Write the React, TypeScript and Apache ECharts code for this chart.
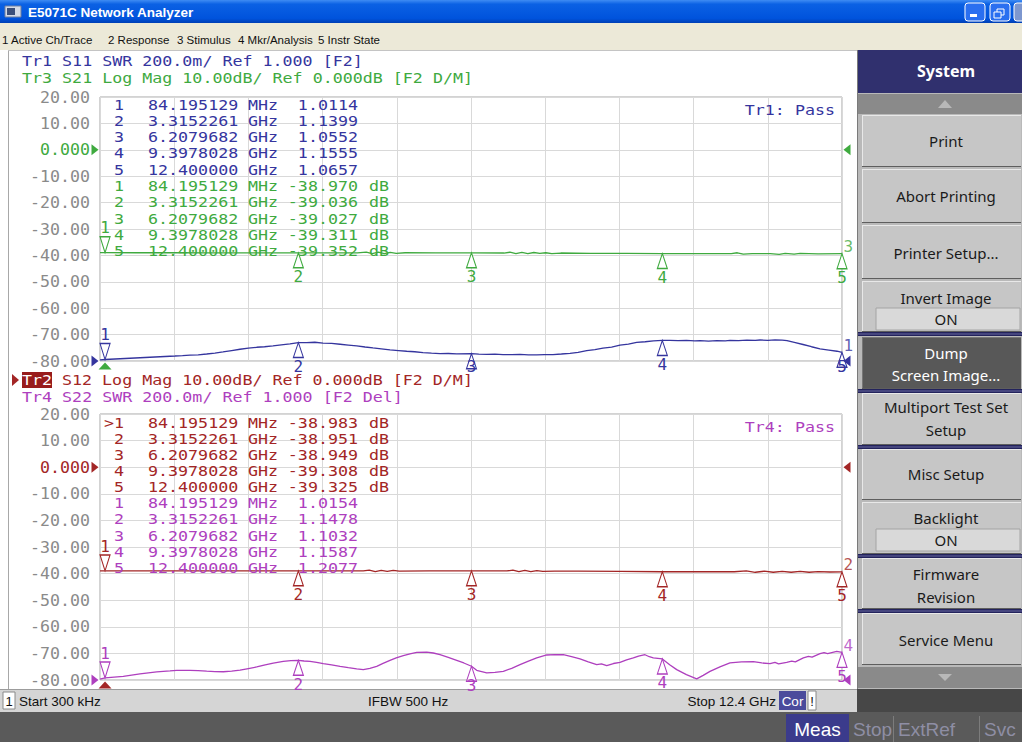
import React, { useEffect, useRef } from 'react';
import * as echarts from 'echarts';

// ---------------- data ----------------
const markerFreqGHz = [0.084195129, 3.3152261, 6.2079682, 9.3978028, 12.4];
const markerFreqText = ['84.195129', '3.3152261', '6.2079682', '9.3978028', '12.400000'];
const markerUnitText = ['MHz', 'GHz', 'GHz', 'GHz', 'GHz'];
const tr1MarkerSwr = [1.0114, 1.1399, 1.0552, 1.1555, 1.0657];
const tr3MarkerDb = [-38.97, -39.036, -39.027, -39.311, -39.352];
const tr2MarkerDb = [-38.983, -38.951, -38.949, -39.308, -39.325];
const tr4MarkerSwr = [1.0154, 1.1478, 1.1032, 1.1587, 1.2077];

// Tr1 S11 SWR (top plot)
const tr1Trace: [number, number][] = [
  [0.0003, 1.009], [0.0842, 1.0114], [1.253, 1.038], [1.38, 1.041], [1.504, 1.044], [1.64, 1.047],
  [1.783, 1.053], [1.92, 1.06], [2.056, 1.069], [2.2, 1.079], [2.34, 1.089], [2.48, 1.097],
  [2.619, 1.104], [2.75, 1.108], [2.891, 1.114], [3.03, 1.122], [3.175, 1.129], [3.3152261, 1.1399],
  [3.454, 1.139], [3.59, 1.142], [3.727, 1.136], [3.87, 1.133], [4.012, 1.127], [4.15, 1.121],
  [4.29, 1.114], [4.43, 1.106], [4.562, 1.099], [4.7, 1.092], [4.847, 1.084], [4.99, 1.079],
  [5.126, 1.074], [5.26, 1.07], [5.398, 1.064], [5.54, 1.059], [5.682, 1.056], [5.82, 1.057],
  [5.961, 1.054], [6.2079682, 1.0552], [6.33, 1.052], [6.463, 1.05], [6.6, 1.052], [6.735, 1.049],
  [6.88, 1.048], [7.019, 1.05], [7.16, 1.047], [7.298, 1.046], [7.43, 1.049], [7.57, 1.049],
  [7.71, 1.053], [7.855, 1.058], [7.99, 1.066], [8.134, 1.078], [8.27, 1.086], [8.406, 1.097],
  [8.55, 1.105], [8.69, 1.121], [8.83, 1.128], [8.969, 1.141], [9.11, 1.146], [9.25, 1.152],
  [9.3978028, 1.1555], [9.525, 1.157], [9.66, 1.154], [9.8, 1.156], [9.94, 1.153], [10.027, 1.154],
  [10.17, 1.151], [10.31, 1.154], [10.45, 1.153], [10.528, 1.156], [10.67, 1.154], [10.81, 1.158],
  [10.95, 1.156], [11.03, 1.159], [11.16, 1.157], [11.281, 1.16], [11.4, 1.158], [11.481, 1.155],
  [11.62, 1.14], [11.749, 1.125], [11.89, 1.108], [12.033, 1.092], [12.18, 1.083], [12.317, 1.074],
  [12.4, 1.0657],
];

// Tr3 S21 Log Mag (top plot)
const tr3Trace: [number, number][] = [
  [0.0003, -38.95], [0.0842, -38.97], [0.6, -38.99], [1.2, -39.0], [1.8, -39.01], [2.4, -39.02],
  [3.0, -39.03], [3.3152261, -39.036], [3.8, -39.04], [4.3, -39.05], [4.45, -38.75], [4.55, -39.35],
  [4.65, -38.8], [4.75, -39.3], [4.85, -38.85], [4.95, -39.2], [5.1, -39.0], [5.6, -39.02],
  [6.2079682, -39.027], [6.75, -39.1], [6.85, -38.8], [6.95, -39.35], [7.05, -38.85], [7.15, -39.3],
  [7.25, -38.9], [7.35, -39.25], [7.45, -39.0], [7.55, -39.3], [7.7, -39.1], [8.2, -39.2],
  [8.8, -39.26], [9.3978028, -39.311], [10.0, -39.3], [10.55, -39.32], [10.65, -39.0], [10.75, -39.5],
  [10.9, -39.3], [11.2, -39.35], [11.35, -39.6], [11.45, -39.2], [11.6, -39.55], [11.7, -39.25],
  [12.0, -39.4], [12.4, -39.352],
];

// Tr2 S12 Log Mag (bottom plot)
const tr2Trace: [number, number][] = [
  [0.0003, -38.95], [0.0842, -38.983], [0.7, -38.97], [1.4, -38.96], [2.1, -38.96], [2.8, -38.95],
  [3.3152261, -38.951], [3.9, -38.95], [4.4, -38.96], [4.5, -38.7], [4.6, -39.25], [4.7, -38.75],
  [4.8, -39.2], [4.9, -38.8], [5.0, -39.1], [5.5, -38.95], [6.2079682, -38.949], [6.8, -39.0],
  [6.9, -38.7], [7.0, -39.3], [7.1, -38.75], [7.2, -39.25], [7.3, -38.85], [7.4, -39.15],
  [7.6, -39.05], [8.0, -39.1], [8.7, -39.2], [9.3978028, -39.308], [10.0, -39.3], [10.6, -39.31],
  [10.8, -39.0], [10.95, -39.5], [11.1, -39.1], [11.25, -39.5], [11.4, -39.15], [11.55, -39.5],
  [11.7, -39.2], [11.85, -39.5], [12.0, -39.25], [12.2, -39.4], [12.4, -39.325],
];

// Tr4 S22 SWR (bottom plot)
const tr4Trace: [number, number][] = [
  [0.0003, 1.006], [0.0842, 1.0154], [0.389, 1.028], [0.668, 1.046], [0.948, 1.061], [1.17, 1.068],
  [1.282, 1.073], [1.504, 1.073], [1.64, 1.07], [1.783, 1.066], [1.92, 1.063], [2.061, 1.062],
  [2.2, 1.066], [2.34, 1.074], [2.48, 1.086], [2.619, 1.098], [2.76, 1.114], [2.896, 1.127],
  [3.063, 1.14], [3.19, 1.146], [3.3152261, 1.1478], [3.41, 1.143], [3.51, 1.14], [3.62, 1.132],
  [3.732, 1.123], [3.87, 1.114], [4.012, 1.103], [4.15, 1.093], [4.29, 1.083], [4.4, 1.078],
  [4.51, 1.087], [4.624, 1.103], [4.73, 1.125], [4.846, 1.148], [4.95, 1.167], [5.069, 1.183],
  [5.18, 1.197], [5.293, 1.207], [5.46, 1.21], [5.57, 1.203], [5.682, 1.19], [5.82, 1.17],
  [5.961, 1.148], [6.08, 1.128], [6.2079682, 1.1032], [6.295, 1.073], [6.463, 1.053], [6.6, 1.057],
  [6.74, 1.065], [6.88, 1.088], [7.019, 1.115], [7.16, 1.142], [7.298, 1.166], [7.465, 1.188],
  [7.6, 1.191], [7.743, 1.19], [7.88, 1.176], [8.022, 1.158], [8.16, 1.136], [8.301, 1.115],
  [8.38, 1.121], [8.468, 1.108], [8.58, 1.124], [8.69, 1.133], [8.8, 1.152], [8.913, 1.166],
  [9.0, 1.18], [9.108, 1.19], [9.18, 1.175], [9.247, 1.166], [9.3978028, 1.1587], [9.52, 1.115],
  [9.638, 1.078], [9.8, 1.04], [9.972, 1.008], [10.08, 1.035], [10.194, 1.065], [10.36, 1.098],
  [10.528, 1.128], [10.72, 1.137], [10.918, 1.138], [11.06, 1.128], [11.197, 1.123], [11.28, 1.132],
  [11.34, 1.122], [11.476, 1.133], [11.56, 1.142], [11.62, 1.136], [11.754, 1.166], [11.84, 1.178],
  [11.9, 1.172], [12.033, 1.198], [12.1, 1.205], [12.16, 1.198], [12.312, 1.215], [12.4, 1.2077],
];

const freqStartGHz = 0;
const freqStopGHz = 12.4;
const dbMin = -80;
const dbMax = 20;
const swrMin = 1;
const swrMax = 3;

// ---------------- styling ----------------
const MONO = '"DejaVu Sans Mono", monospace';
const SANS = '"Noto Sans", "DejaVu Sans", sans-serif';
const ARIAL = '"Liberation Sans", Arial, sans-serif';
const COL = {
  tr1: '#35359e',
  tr3: '#3faa3f',
  tr2: '#a32626',
  tr4: '#ae3fbe',
  axis: '#8a8a8a',
  grid: '#d9d9d9',
  border: '#a6a6a6',
};
const GRID_TOP = { top: 97, height: 264 };
const GRID_BOT = { top: 414, height: 266 };
const MONO_SIZE = 14;
const MONO_SX = 1.19;

function buildOption() {
  const g: any[] = [];
  const R = (x: number, y: number, w: number, h: number, fill: any, stroke?: string, z = -10, r = 0) => {
    const style: any = { fill };
    if (stroke) { style.stroke = stroke; style.lineWidth = 1; }
    g.push({ type: 'rect', silent: true, z, shape: { x, y, width: w, height: h, r }, style });
  };
  const L = (x1: number, y1: number, x2: number, y2: number, stroke: string, lw = 1, z = -9) =>
    g.push({ type: 'line', silent: true, z, shape: { x1, y1, x2, y2 }, style: { stroke, lineWidth: lw } });
  const P = (points: number[][], fill: string, z = -8) =>
    g.push({ type: 'polygon', silent: true, z, shape: { points }, style: { fill } });
  const T = (x: number, y: number, text: string, o: any = {}) =>
    g.push({
      type: 'text', silent: true, z: o.z ?? 20, x, y, scaleX: o.sx ?? 1,
      style: {
        text, fill: o.color || '#000', fontSize: o.size || 14, fontFamily: o.family || SANS,
        fontWeight: o.weight || 'normal', align: o.align || 'left', textAlign: o.align || 'left',
        verticalAlign: 'middle', textVerticalAlign: 'middle',
      },
    });
  const M = (x: number, y: number, text: string, color: string, align = 'left', z = 20) =>
    T(x, y, text, { family: MONO, size: MONO_SIZE, sx: MONO_SX, color, align, z });

  // ---- title bar ----
  R(0, 0, 1022, 23, { type: 'linear', x: 0, y: 0, x2: 0, y2: 1, colorStops: [
    { offset: 0, color: '#3f8cf3' }, { offset: 0.18, color: '#0b61e4' }, { offset: 0.8, color: '#0053dc' }, { offset: 1, color: '#003fb5' }] });
  R(5, 6, 16, 11, '#d4dae6', '#6f7f9f', -9);
  R(7, 8, 8, 7, '#3b4f7a', undefined, -8);
  T(28, 12, 'E5071C Network Analyzer', { color: '#ffffff', size: 13.5, family: ARIAL, weight: 'bold' });
  const tbBtn = (x: number, fill: string) => R(x, 3, 20, 18, fill, '#ffffff', -9, 3);
  tbBtn(965, '#2a6ff0');
  tbBtn(990, '#2a6ff0');
  tbBtn(1014, '#7d97cf');
  R(970, 14, 7, 3, '#ffffff', undefined, -7);
  R(997, 9, 7, 6, 'none', '#ffffff', -7);
  R(994, 12, 7, 6, '#2a6ff0', '#ffffff', -6);

  // ---- menu bar ----
  R(0, 23, 1022, 27, '#ece9d8');
  const menuItems = ['1 Active Ch/Trace', '2 Response', '3 Stimulus', '4 Mkr/Analysis', '5 Instr State'];
  const menuX = [2, 108, 177, 238, 318];
  menuItems.forEach((m, i) => T(menuX[i], 40, m, { size: 11.5, family: ARIAL, color: '#111' }));

  // ---- chart window ----
  R(0, 50, 857, 639, '#ffffff');
  L(8.5, 50, 8.5, 689, '#a8a8a8');
  L(8, 50.5, 857, 50.5, '#c4c4c4');

  // headers
  M(22, 61, 'Tr1 S11 SWR 200.0m/ Ref 1.000 [F2]', COL.tr1);
  M(22, 78, 'Tr3 S21 Log Mag 10.00dB/ Ref 0.000dB [F2 D/M]', COL.tr3);
  P([[12, 374], [19, 380], [12, 386]], COL.tr2, 10);
  R(22, 372, 30, 16, '#981c1c', undefined, 10);
  M(22, 380, 'Tr2', '#ffffff', 'left', 21);
  M(62, 380, 'S12 Log Mag 10.00dB/ Ref 0.000dB [F2 D/M]', COL.tr2);
  M(22, 397, 'Tr4 S22 SWR 200.0m/ Ref 1.000 [F2 Del]', COL.tr4);

  M(835, 110, 'Tr1: Pass', COL.tr1, 'right');
  M(835, 427, 'Tr4: Pass', COL.tr4, 'right');

  // marker tables
  const row = (y: number, idx: string, i: number, val: string, unit: string, color: string) => {
    M(124, y, idx, color, 'right');
    M(148, y, markerFreqText[i], color);
    M(248, y, markerUnitText[i], color);
    M(358, y, val, color, 'right');
    if (unit) M(369, y, unit, color);
  };
  tr1MarkerSwr.forEach((v, i) => row(105 + i * 16.3, String(i + 1), i, v.toFixed(4), '', COL.tr1));
  tr3MarkerDb.forEach((v, i) => row(105 + (i + 5) * 16.3, String(i + 1), i, v.toFixed(3), 'dB', COL.tr3));
  tr2MarkerDb.forEach((v, i) => row(423.3 + i * 16.1, i === 0 ? '>1' : String(i + 1), i, v.toFixed(3), 'dB', COL.tr2));
  tr4MarkerSwr.forEach((v, i) => row(423.3 + (i + 5) * 16.1, String(i + 1), i, v.toFixed(4), '', COL.tr4));

  // ---- status bar ----
  R(0, 689, 857, 23, '#d5d5d5');
  L(0, 689.5, 857, 689.5, '#9c9c9c', 1, -8);
  R(3, 692, 12, 17, '#ffffff', '#8a8a8a', -8);
  T(9, 701, '1', { size: 13, family: ARIAL, align: 'center', color: '#111' });
  T(19, 701, 'Start 300 kHz', { size: 13.5, family: ARIAL, color: '#111' });
  T(368, 701, 'IFBW 500 Hz', { size: 13.5, family: ARIAL, color: '#111' });
  T(776, 701, 'Stop 12.4 GHz', { size: 13.5, family: ARIAL, color: '#111', align: 'right' });
  R(779, 691, 27, 19, '#4b4b9c', undefined, -8);
  T(792.5, 701, 'Cor', { size: 13.5, family: ARIAL, color: '#ffffff', align: 'center' });
  R(808, 691, 8, 19, '#ffffff', '#8a8a8a', -8);
  T(812, 701, '!', { size: 13, family: ARIAL, color: '#111', align: 'center' });

  // ---- bottom strip ----
  R(857, 689, 165, 24, '#474747');
  R(0, 712, 1022, 30, '#5a5a5a');
  R(786, 714, 63, 28, '#3b3b8c', undefined, -8);
  T(817.5, 729, 'Meas', { size: 19, family: ARIAL, color: '#ffffff', align: 'center' });
  T(853, 729, 'Stop', { size: 19, family: ARIAL, color: '#8e8ea4' });
  L(893.5, 716, 893.5, 742, '#7c7c7c', 1, -7);
  T(898, 729, 'ExtRef', { size: 19, family: ARIAL, color: '#8e8ea4' });
  L(979.5, 716, 979.5, 742, '#7c7c7c', 1, -7);
  T(984, 729, 'Svc', { size: 19, family: ARIAL, color: '#8e8ea4' });

  // ---- right softkey panel ----
  R(857, 50, 165, 639, '#b9b9b9');
  L(857.5, 50, 857.5, 689, '#7a7a7a', 1, -8);
  R(858, 50, 164, 43, '#30306e', undefined, -8);
  T(946, 71, 'System', { size: 16, family: SANS, weight: 'bold', color: '#ffffff', align: 'center' });
  R(858, 94, 164, 20, '#8a8a8a', undefined, -8);
  P([[938, 108], [952, 108], [945, 100]], '#b8b8b8', -7);

  const buttons = [
    { y: 115, h: 52, lines: ['Print'], ty: [141], dark: false },
    { y: 169, h: 54, lines: ['Abort Printing'], ty: [196], dark: false },
    { y: 225, h: 54, lines: ['Printer Setup...'], ty: [253], dark: false },
    { y: 281, h: 51, lines: ['Invert Image'], ty: [298], dark: false, on: 308 },
    { y: 337, h: 52, lines: ['Dump', 'Screen Image...'], ty: [353, 375], dark: true },
    { y: 393, h: 52, lines: ['Multiport Test Set', 'Setup'], ty: [407, 430], dark: false },
    { y: 449, h: 51, lines: ['Misc Setup'], ty: [474], dark: false },
    { y: 502, h: 52, lines: ['Backlight'], ty: [518], dark: false, on: 529 },
    { y: 558, h: 51, lines: ['Firmware', 'Revision'], ty: [574, 597], dark: false },
    { y: 613, h: 52, lines: ['Service Menu'], ty: [640], dark: false },
  ];
  buttons.forEach((b: any) => {
    R(862, b.y, 159, b.h, b.dark ? '#585858' : '#c6c6c6', undefined, -8);
    L(862, b.y + 0.5, 1021, b.y + 0.5, b.dark ? '#777' : '#e8e8e8', 1, -7);
    L(862.5, b.y, 862.5, b.y + b.h, b.dark ? '#777' : '#e8e8e8', 1, -7);
    L(862, b.y + b.h - 0.5, 1021, b.y + b.h - 0.5, '#5e5e5e', 1, -7);
    b.lines.forEach((t: string, i: number) => T(946, b.ty[i], t, { size: 15, family: SANS, color: b.dark ? '#ffffff' : '#1a1a1a', align: 'center' }));
    if (b.on) {
      R(876, b.on, 144, 22, '#d9d9d9', '#a4a4a4', -6);
      T(946, b.on + 11, 'ON', { size: 15, family: SANS, color: '#1a1a1a', align: 'center' });
    }
  });
  [332, 389, 445, 554, 609].forEach((y) => {
    R(858, y, 164, 4, '#23235c', undefined, -6);
    L(858, y + 2, 1022, y + 2, '#6b6ba0', 1, -5);
  });
  R(858, 667, 164, 21, '#8a8a8a', undefined, -8);
  P([[938, 674], [952, 674], [945, 681]], '#b8b8b8', -7);

  // ---------------- axes ----------------
  const xAxisCfg = (gridIndex: number) => ({
    type: 'value', gridIndex, min: freqStartGHz, max: freqStopGHz, interval: 1.24,
    axisLabel: { show: false }, axisTick: { show: false }, axisLine: { show: false },
    splitLine: { show: true, lineStyle: { color: COL.grid, width: 1 } },
  });
  const yDb = (gridIndex: number, zeroColor: string) => ({
    type: 'value', gridIndex, min: dbMin, max: dbMax, interval: 10,
    axisLine: { show: false }, axisTick: { show: false },
    splitLine: { show: true, lineStyle: { color: COL.grid, width: 1 } },
    axisLabel: {
      margin: 10, fontFamily: MONO, fontSize: 16.6,
      formatter: (v: number) => (Number(v) === 0 ? '0.000' : Number(v).toFixed(2)),
      color: (v: any) => (Number(v) === 0 ? zeroColor : COL.axis),
    },
  });
  const ySwr = (gridIndex: number) => ({
    type: 'value', gridIndex, min: swrMin, max: swrMax, show: false, splitLine: { show: false },
  });

  // ---------------- series ----------------
  const series: any[] = [];
  const traceLine = (xi: number, yi: number, data: [number, number][], color: string) =>
    series.push({ type: 'line', xAxisIndex: xi, yAxisIndex: yi, data, symbol: 'none', silent: true,
      lineStyle: { color, width: 1.3 }, itemStyle: { color }, z: 3 });

  // marker numbers below the graticule are held just at its lower edge, as the analyzer does
  const markers = (xi: number, yi: number, vals: number[], color: string, gridBox: { top: number; height: number }, lo: number, hi: number) => {
    const bottomLimit = gridBox.top + gridBox.height + 6;
    series.push({
      type: 'scatter', xAxisIndex: xi, yAxisIndex: yi, clip: false, silent: true, z: 5,
      symbol: 'triangle', symbolSize: [10, 15], symbolOffset: [0, 7.5],
      itemStyle: { color: '#ffffff', borderColor: color, borderWidth: 1.2, opacity: 1 },
      label: { show: true, position: 'bottom', distance: 0, color, fontFamily: MONO, fontSize: 16,
        formatter: (p: any) => String(p.dataIndex + 2) },
      data: vals.slice(1).map((v, i) => {
        const apex = gridBox.top + (gridBox.height * (hi - v)) / (hi - lo);
        const natural = apex + 15 + 9.3;
        const dy = natural > bottomLimit ? bottomLimit - natural : 0;
        return { value: [markerFreqGHz[i + 1], v], label: { offset: [0, dy] } };
      }),
    });
    series.push({
      type: 'scatter', xAxisIndex: xi, yAxisIndex: yi, clip: false, silent: true, z: 5,
      symbol: 'path://M0,0L10,0L5,16Z', symbolSize: [10, 16], symbolOffset: [0, -8],
      itemStyle: { color: '#ffffff', borderColor: color, borderWidth: 1.2, opacity: 1 },
      label: { show: true, position: 'top', distance: 0, color, fontFamily: MONO, fontSize: 16, formatter: '1' },
      data: [[markerFreqGHz[0], vals[0]]],
    });
  };
  const endLabel = (xi: number, yi: number, data: [number, number][], text: string, color: string) =>
    series.push({
      type: 'scatter', xAxisIndex: xi, yAxisIndex: yi, clip: false, silent: true, z: 6,
      symbol: 'circle', symbolSize: 1, itemStyle: { color: 'rgba(0,0,0,0)' },
      label: { show: true, position: 'right', distance: 1, offset: [0, -7], color, fontFamily: MONO, fontSize: 16, formatter: text },
      data: [data[data.length - 1]],
    });
  const indicator = (xi: number, yi: number, pt: number[], symbol: string, size: number[], offset: number[], color: string) =>
    series.push({
      type: 'scatter', xAxisIndex: xi, yAxisIndex: yi, clip: false, silent: true, z: 6,
      symbol, symbolSize: size, symbolOffset: offset, itemStyle: { color, opacity: 1 }, data: [pt],
    });
  const RIGHT = 'path://M0,0L10,6L0,12Z';
  const LEFT = 'path://M10,0L0,6L10,12Z';

  traceLine(0, 0, tr3Trace, COL.tr3);
  traceLine(0, 1, tr1Trace, COL.tr1);
  traceLine(1, 2, tr2Trace, COL.tr2);
  traceLine(1, 3, tr4Trace, COL.tr4);

  markers(0, 0, tr3MarkerDb, COL.tr3, GRID_TOP, dbMin, dbMax);
  markers(0, 1, tr1MarkerSwr, COL.tr1, GRID_TOP, swrMin, swrMax);
  markers(1, 2, tr2MarkerDb, COL.tr2, GRID_BOT, dbMin, dbMax);
  markers(1, 3, tr4MarkerSwr, COL.tr4, GRID_BOT, swrMin, swrMax);

  endLabel(0, 0, tr3Trace, '3', COL.tr3);
  endLabel(0, 1, tr1Trace, '1', COL.tr1);
  endLabel(1, 2, tr2Trace, '2', COL.tr2);
  endLabel(1, 3, tr4Trace, '4', COL.tr4);

  // reference-level and stimulus indicators
  indicator(0, 0, [freqStartGHz, 0], RIGHT, [7, 11], [-5, 0], COL.tr3);
  indicator(0, 0, [freqStopGHz, 0], LEFT, [7, 11], [5, 0], COL.tr3);
  indicator(0, 1, [freqStartGHz, swrMin], RIGHT, [7, 11], [-5, 0], COL.tr1);
  indicator(0, 1, [freqStopGHz, swrMin], LEFT, [7, 11], [5, 0], COL.tr1);
  indicator(0, 0, [markerFreqGHz[0], dbMin], 'triangle', [13, 7], [0, 5], COL.tr3);
  indicator(1, 2, [freqStartGHz, 0], RIGHT, [7, 11], [-5, 0], COL.tr2);
  indicator(1, 2, [freqStopGHz, 0], LEFT, [7, 11], [5, 0], COL.tr2);
  indicator(1, 3, [freqStartGHz, swrMin], RIGHT, [7, 11], [-5, 0], COL.tr4);
  indicator(1, 3, [freqStopGHz, swrMin], LEFT, [7, 11], [5, 0], COL.tr4);
  indicator(1, 2, [markerFreqGHz[0], dbMin], 'triangle', [13, 7], [0, 5], COL.tr2);

  return {
    animation: false,
    backgroundColor: '#ffffff',
    grid: [
      { left: 100, top: GRID_TOP.top, width: 742, height: GRID_TOP.height, show: true, borderColor: COL.border, borderWidth: 1, backgroundColor: 'rgba(0,0,0,0)' },
      { left: 100, top: GRID_BOT.top, width: 742, height: GRID_BOT.height, show: true, borderColor: COL.border, borderWidth: 1, backgroundColor: 'rgba(0,0,0,0)' },
    ],
    xAxis: [xAxisCfg(0), xAxisCfg(1)],
    yAxis: [yDb(0, COL.tr3), ySwr(0), yDb(1, COL.tr2), ySwr(1)],
    series,
    graphic: { elements: g },
  };
}

export default function App() {
  const ref = useRef<HTMLDivElement>(null);
  useEffect(() => {
    document.body.style.margin = '0';
    const chart = echarts.init(ref.current as HTMLDivElement, undefined, { renderer: 'svg', width: 1022, height: 742 });
    chart.setOption(buildOption() as any);
    return () => chart.dispose();
  }, []);
  return <div ref={ref} style={{ position: 'absolute', left: 0, top: 0, width: 1022, height: 742 }} />;
}
